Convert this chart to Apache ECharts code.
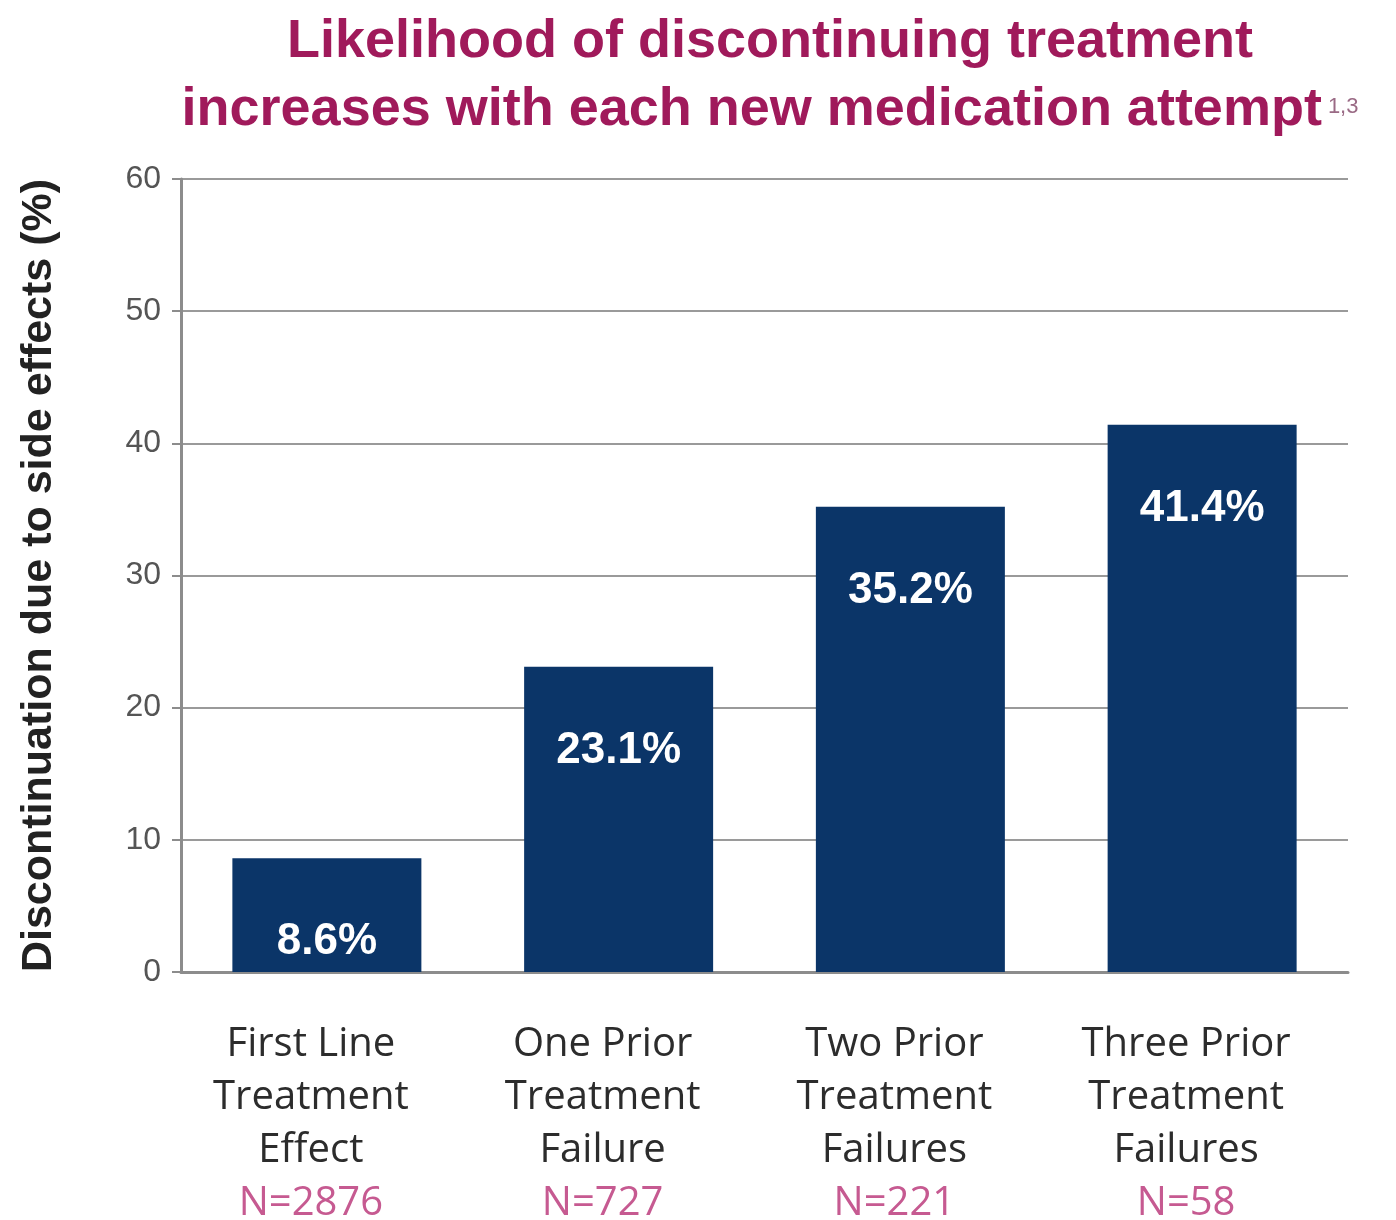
<!DOCTYPE html>
<html>
<head>
<meta charset="utf-8">
<script src="https://cdn.jsdelivr.net/npm/echarts@6/dist/echarts.min.js"></script>
<style>
  html, body { margin: 0; padding: 0; background: #ffffff; }
  #chart { width: 1396px; height: 1220px; }
</style>
</head>
<body>
<div id="chart"></div>
<script>
// Discontinuation rates by number of prior treatment attempts
const categories = [
  ['First Line', 'Treatment', 'Effect'],
  ['One Prior', 'Treatment', 'Failure'],
  ['Two Prior', 'Treatment', 'Failures'],
  ['Three Prior', 'Treatment', 'Failures']
];
const sampleSizes = ['N=2876', 'N=727', 'N=221', 'N=58'];
const discontinuation = [8.6, 23.1, 35.2, 41.4];
const yTicks = { min: 0, max: 60, interval: 10 };

const titleLine1 = 'Likelihood of discontinuing treatment';
const titleLine2 = 'increases with each new medication attempt';
const titleRefs = '1,3';
const yAxisTitle = 'Discontinuation due to side effects (%)';

const TITLE_COLOR = '#a01a5b';
const BAR_COLOR = '#0b3568';
const N_COLOR = '#c65a91';
const REF_COLOR = '#9a6a85';

const chart = echarts.init(document.getElementById('chart'), null, { renderer: 'canvas' });

const catKeys = categories.map((_, i) => String(i));

chart.setOption({
  backgroundColor: '#ffffff',
  animation: false,
  graphic: [
    {
      type: 'text',
      x: 770,
      y: 8,
      style: {
        text: '{t|' + titleLine1 + '}\n{t|' + titleLine2 + '}{s|' + titleRefs + '}',
        textAlign: 'center',
        rich: {
          t: {
            fontFamily: '"Liberation Sans", Arial, sans-serif',
            fontWeight: 'bold',
            fontSize: 54,
            lineHeight: 68,
            fill: TITLE_COLOR
          },
          s: {
            fontFamily: '"Liberation Sans", Arial, sans-serif',
            fontSize: 22,
            lineHeight: 68,
            verticalAlign: 'top',
            padding: [20, 0, 0, 6],
            fill: REF_COLOR
          }
        }
      }
    }
  ],
  grid: {
    left: 181,
    right: 48,
    top: 179,
    bottom: 248,
    containLabel: false,
    outerBoundsMode: 'none'
  },
  xAxis: {
    type: 'category',
    data: catKeys,
    axisLine: { show: true, lineStyle: { color: '#8c8c8c', width: 3 } },
    axisTick: { show: false },
    axisLabel: {
      interval: 0,
      margin: 46,
      formatter: function (v) {
        const i = Number(v);
        return categories[i].map(l => '{a|' + l + '}').join('\n') + '\n{n|' + sampleSizes[i] + '}';
      },
      rich: {
        a: {
          fontFamily: '"Open Sans", sans-serif',
          fontSize: 40,
          lineHeight: 53,
          color: '#2c2c2c',
          padding: [0, 32, 0, 0]
        },
        n: {
          fontFamily: '"Open Sans", sans-serif',
          fontSize: 40,
          lineHeight: 53,
          color: N_COLOR,
          padding: [0, 32, 0, 0]
        }
      }
    }
  },
  yAxis: {
    type: 'value',
    min: yTicks.min,
    max: yTicks.max,
    interval: yTicks.interval,
    name: yAxisTitle,
    nameLocation: 'middle',
    nameGap: 120,
    nameRotate: 90,
    nameTextStyle: {
      fontFamily: '"Liberation Sans", Arial, sans-serif',
      fontWeight: 'bold',
      fontSize: 43,
      color: '#222222'
    },
    axisLine: { show: true, lineStyle: { color: '#8c8c8c', width: 3 } },
    axisTick: { show: true, length: 9, lineStyle: { color: '#8c8c8c', width: 2 } },
    axisLabel: {
      margin: 20,
      padding: [8, 0, 0, 0],
      fontFamily: '"Liberation Sans", Arial, sans-serif',
      fontSize: 32,
      color: '#555555'
    },
    splitLine: { show: true, lineStyle: { color: '#9a9a9a', width: 2 } }
  },
  series: [
    {
      type: 'bar',
      data: discontinuation,
      barWidth: 189,
      itemStyle: { color: BAR_COLOR },
      label: {
        show: true,
        position: 'insideTop',
        distance: 62,
        formatter: p => p.value.toFixed(1) + '%',
        fontFamily: '"Liberation Sans", Arial, sans-serif',
        fontWeight: 'bold',
        fontSize: 44,
        color: '#ffffff'
      }
    }
  ]
});
</script>
</body>
</html>
